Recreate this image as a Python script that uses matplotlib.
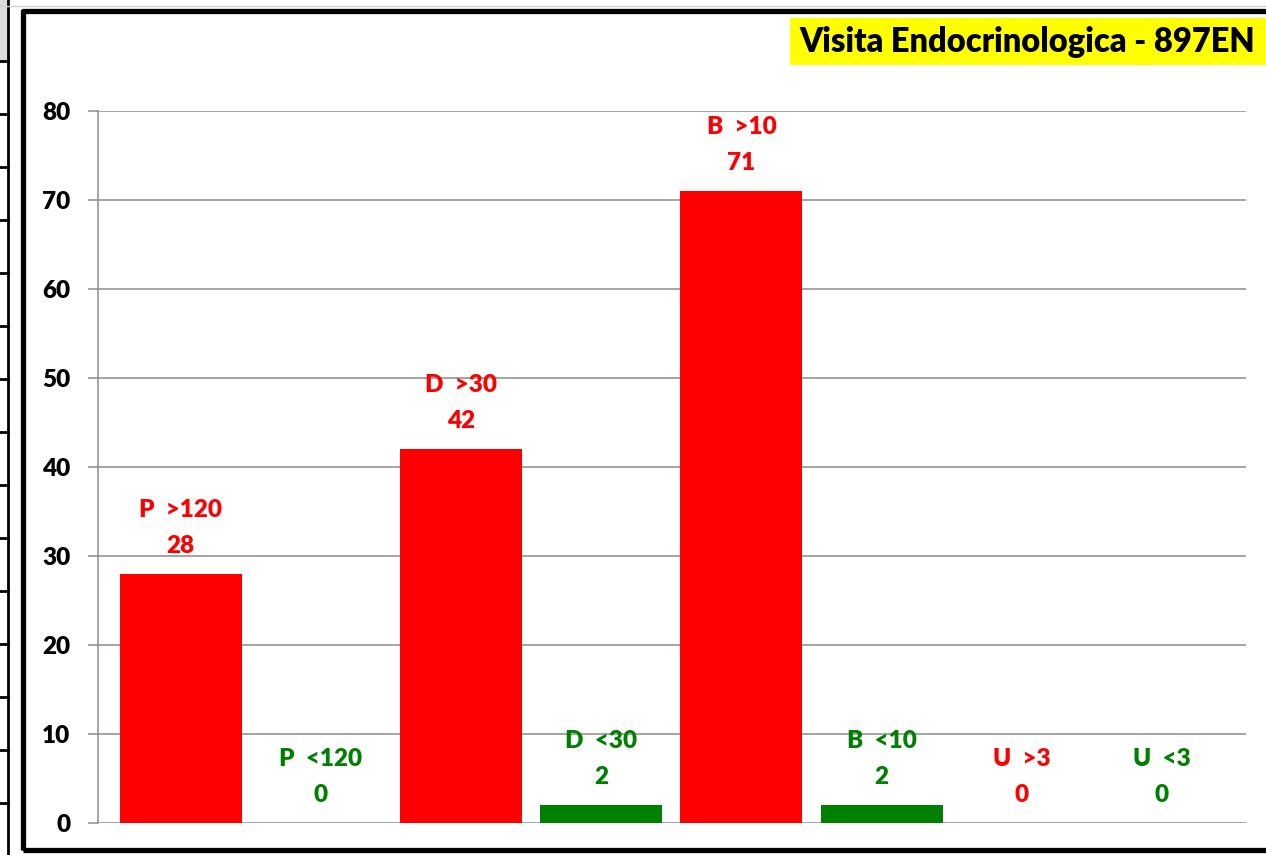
"""
Bar chart of the Visita Endocrinologica (897EN) waiting-time counts,
one red bar for over the threshold and one green bar for under it.
"""
import matplotlib
matplotlib.use("Agg")
import matplotlib.pyplot as plt
from matplotlib.patches import Rectangle
from matplotlib.lines import Line2D

TITLE = "Visita Endocrinologica - 897EN"
CATEGORIES = ["P  >120", "P  <120", "D  >30", "D  <30",
              "B  >10", "B  <10", "U  >3", "U  <3"]
VALUES = [28, 0, 42, 2, 71, 2, 0, 0]
SERIES_COLORS = ["#FF0000", "#008000"] * 4
Y_TICKS = [0, 10, 20, 30, 40, 50, 60, 70, 80]

W, H = 1266, 855
FONT = ["Lato", "DejaVu Sans"]


def px(x, y):
    """Pixel position (from top-left) to figure fraction."""
    return x / W, 1 - y / H


def main():
    plt.rcParams["font.family"] = FONT
    plt.rcParams["font.weight"] = "bold"
    fig = plt.figure(figsize=(W / 100, H / 100), dpi=100)

    # spreadsheet fragment on the left edge
    fig.add_artist(Rectangle(px(0, 61), 8 / W, 61 / H, transform=fig.transFigure,
                             facecolor="#dcdcdc", edgecolor="none"))
    fig.add_artist(Line2D([8 / W, 8 / W], [0, 1], transform=fig.transFigure,
                          color="black", lw=2))
    for k in range(15):
        y = 61 + 53 * k
        fig.add_artist(Line2D([0, 8 / W], [1 - y / H] * 2, transform=fig.transFigure,
                              color="black", lw=2))

    # thick chart frame
    fig.add_artist(Line2D([0, 1], [1 - 6 / H] * 2, transform=fig.transFigure,
                          color="#d0d0d0", lw=1))
    fig.add_artist(Rectangle(px(23.5, 850), 1.0, (850 - 11) / H, transform=fig.transFigure,
                             facecolor="none", edgecolor="black", lw=3.8, joinstyle="round"))

    # title on yellow box
    fig.add_artist(Rectangle(px(790, 65), 1.0, 47 / H, transform=fig.transFigure,
                             facecolor="#FFFF00", edgecolor="none"))
    fig.text(*px(799, 42), TITLE, fontsize=23.5, fontweight="heavy", color="black",
             ha="left", va="center")

    left, right = 98 / W, 1246 / W
    bottom, top = 1 - 823 / H, 1 - 111 / H
    ax = fig.add_axes([left, bottom, right - left, top - bottom])

    xs = list(range(len(CATEGORIES)))
    ax.bar(xs, VALUES, width=0.87, color=SERIES_COLORS, zorder=3)

    for x, v, name, c in zip(xs, VALUES, CATEGORIES, SERIES_COLORS):
        ax.annotate(str(v), (x, v), xytext=(0, 28), textcoords="offset pixels",
                    ha="center", va="center", color=c, fontsize=17.5, fontweight="heavy")
        ax.annotate(name, (x, v), xytext=(0, 64), textcoords="offset pixels",
                    ha="center", va="center", color=c, fontsize=17.5, fontweight="heavy")

    ax.set_xlim(-0.59, 7.60)
    ax.set_ylim(0, 80)
    ax.set_yticks(Y_TICKS)
    ax.set_xticks([])
    ax.yaxis.grid(True, color="#8c8c8c", lw=1.1, zorder=0)
    ax.tick_params(axis="y", length=7, width=1.1, color="#8c8c8c", pad=13,
                   labelsize=17.5)
    for lab in ax.get_yticklabels():
        lab.set_fontweight("heavy")
    for side in ["top", "right", "bottom"]:
        ax.spines[side].set_visible(False)
    ax.spines["left"].set_color("#8c8c8c")
    ax.spines["left"].set_linewidth(1.1)
    ax.set_facecolor("none")

    fig.savefig("out.png", dpi=100)


if __name__ == "__main__":
    main()
